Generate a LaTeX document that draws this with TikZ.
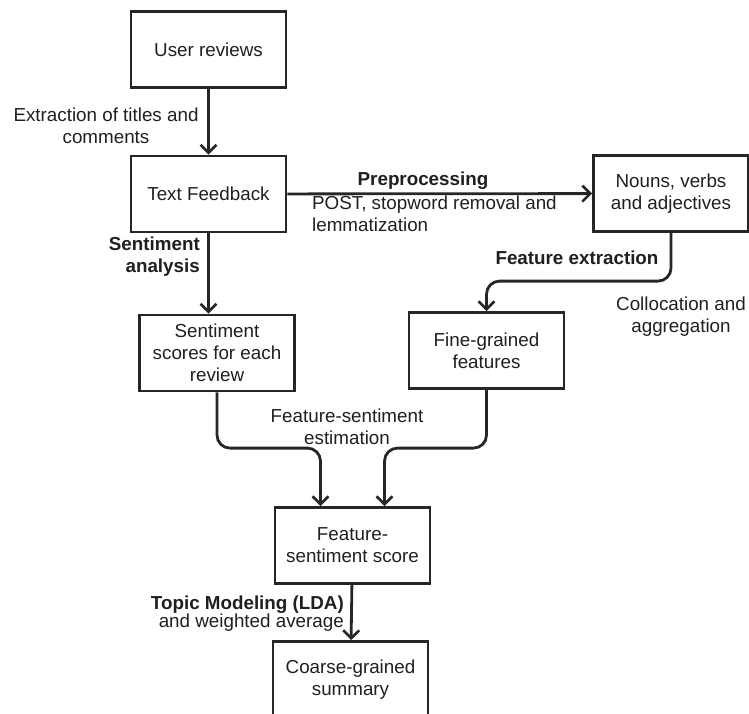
\documentclass[tikz,border=0pt]{standalone}
\usepackage{fontspec}
\setmainfont{Liberation Sans}
\usetikzlibrary{arrows.meta,calc}
\begin{document}
\begin{tikzpicture}[x=1pt,y=-1pt,
  every node/.style={font=\fontsize{18.8}{22}\selectfont, text=black!88},
  box/.style={draw=black!85, line width=2.8pt, minimum width=155pt, minimum height=76pt, align=center, inner sep=2pt},
  conn/.style={draw=black!85, line width=2.8pt, rounded corners=13pt, -{Straight Barb[length=8pt,width=16pt,line width=2.6pt]}},
  lbl/.style={align=center, inner sep=0pt},
  bl/.style={font=\fontsize{18.8}{22}\selectfont\bfseries}]
\useasboundingbox (0,0) rectangle (749,713);
\clip (0,0) rectangle (749,713);
\node[box] (ur) at (208.5,49.5) {User reviews};
\node[box] (tf) at (208.5,194) {Text Feedback};
\node[box] (nva) at (671,193.5) {Nouns, verbs\\and adjectives};
\node[box] (ss) at (217,353) {Sentiment\\scores for each\\review};
\node[box] (fg) at (486.5,350.5) {Fine-grained\\features};
\node[box] (fss) at (352.5,545.5) {Feature-\\sentiment score};
\node[box] (cgs) at (350.5,679.5) {Coarse-grained\\summary};

\draw[conn] (ur) -- (tf);
\draw[conn] (tf) -- (nva);
\draw[conn] (tf.south) -- (tf.south |- ss.north);
\draw[conn] (nva.south) |- ($(fg.north)+(0,-30)$) -- (fg.north);
\draw[conn] (ss.south) |- ($(fss.north)+(-32,-58)$) -- ($(fss.north)+(-32,0)$);
\draw[conn] (fg.south) |- ($(fss.north)+(32,-58)$) -- ($(fss.north)+(32,0)$);
\draw[conn] (fss) -- (cgs);

\node[lbl] (l1) at (106,126) {Extraction of titles and\\comments};
\node[lbl,bl] (l2) at (423,181) {Preprocessing};
\node[lbl,align=left,anchor=north west] (l3) at (312,196) {POST, stopword removal and\\lemmatization};
\node[lbl,bl,align=right,anchor=east] (l4) at (200,257) {Sentiment\\analysis};
\node[lbl,bl] (l5) at (577,258) {Feature extraction};
\node[lbl] (l6) at (681,317) {Collocation and\\aggregation};
\node[lbl] (l7) at (347,427) {Feature-sentiment\\estimation};
\node[lbl,align=right,anchor=east,font=\fontsize{18.8}{18}\selectfont] (l8) at (344,614) {\textbf{Topic Modeling (LDA)}\\and weighted average};
\end{tikzpicture}
\end{document}
